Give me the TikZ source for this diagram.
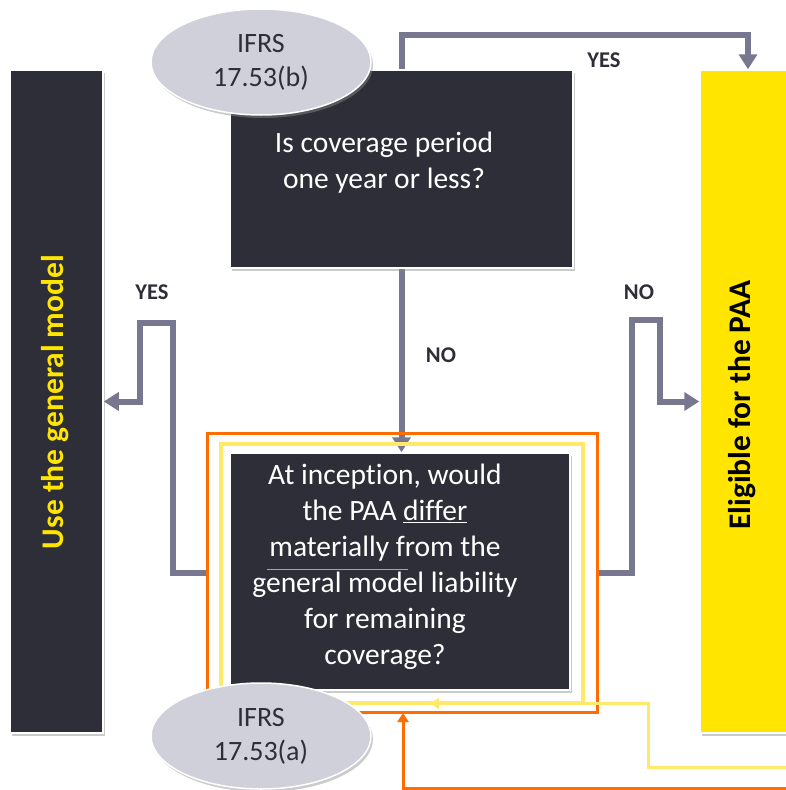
\documentclass[tikz,border=0pt]{standalone}
\usepackage{fontspec}
\setmainfont{Carlito}[Ligatures=NoCommon]
\usetikzlibrary{shapes.geometric,arrows.meta,shadows,backgrounds}
\definecolor{boxdark}{HTML}{2E2E38}
\definecolor{connector}{HTML}{77778F}
\definecolor{paayellow}{HTML}{FFE500}
\definecolor{ovalfill}{HTML}{D0D0DA}
\definecolor{frameorange}{HTML}{FF6D00}
\definecolor{framelight}{HTML}{FFE96A}
\tikzset{
  softshadow/.style={drop shadow={shadow xshift=2pt, shadow yshift=-3pt,
      fill=black!45, opacity=0.45}},
  darkbox/.style={rectangle, fill=boxdark, draw=white, line width=1.5pt,
      inner sep=0pt, softshadow},
  yellowbox/.style={rectangle, fill=paayellow, draw=white, line width=1.5pt,
      inner sep=0pt, softshadow},
  boxtext/.style={text=white, align=center,
      font=\fontsize{29.5}{36}\selectfont},
  sidetext/.style={rotate=90, font=\bfseries\fontsize{31.5}{34}\selectfont},
  oval/.style={ellipse, fill=ovalfill, draw=white, line width=1.5pt,
      minimum width=220pt, minimum height=106pt, inner sep=0pt,
      align=center, text=boxdark, font=\fontsize{28}{34}\selectfont, softshadow},
  answer/.style={text=boxdark, font=\bfseries\fontsize{22.5}{25}\selectfont},
  conn/.style={draw=connector, line width=6pt,
      -{Triangle[width=18pt,length=15pt]}},
  feedyellow/.style={draw=framelight, line width=3pt,
      -{Triangle[width=11pt,length=9pt]}},
  feedorange/.style={draw=frameorange, line width=3pt,
      -{Triangle[width=11pt,length=9pt]}},
}
\begin{document}
\begin{tikzpicture}[x=1pt,y=-1pt]
  \useasboundingbox (0,0) rectangle (786,790);

  % outcome boxes
  \node[darkbox, minimum width=93pt, minimum height=663pt] (gm) at (56.5,401.5) {};
  \node[sidetext, text=paayellow] (gmtext) at (55,402) {Use the general model};
  \node[yellowbox, minimum width=100pt, minimum height=663pt] (paa) at (750,401.5) {};
  \node[sidetext, text=black] (paatext) at (742,405) {Eligible for the PAA};

  % question boxes
  \node[darkbox, minimum width=343pt, minimum height=198pt] (q1) at (401.5,169) {};
  \node[boxtext] (q1text) at (384,163) {Is coverage period\\one year or less?};
  \node[darkbox, minimum width=340pt, minimum height=237pt] (q2) at (400,571.5) {};
  \node[boxtext] (q2text) at (385,567)
    {At inception, would\\the PAA \underline{differ}\\materially from the\\general model liability\\for remaining\\coverage?};
  \draw[gray!70, line width=0.8pt] (267,569) -- (408,569);

  % highlight frames around the second question
  \node[rectangle, draw=framelight, line width=4pt, minimum width=362pt,
        minimum height=259pt, inner sep=0pt] (frameY) at (402,573.5) {};
  \node[rectangle, draw=frameorange, line width=3pt, minimum width=390pt,
        minimum height=279pt, inner sep=0pt] (frameO) at (402,572.5) {};

  % decision connectors, kept behind the boxes
  \coordinate (topbend) at (748,35);
  \begin{scope}[on background layer]
    \draw[conn] (q1.north) |- (topbend) -- (topbend |- paa.north);
    \draw[conn] (q1.south) -- (q1.south |- q2.north);
    \draw[conn] (frameO.west) -| (173,323) -| (140,401.5) -- (gm.east);
    \draw[conn] (frameO.east) -| (632,320) -| (660,401.5) -- (paa.west);
  \end{scope}

  % feedback lines
  \coordinate (yin) at (792,767);
  \coordinate (oin) at (792,788);
  \draw[feedyellow] (yin) -| (648,703.5) -- (430,703.5);
  \draw[feedorange] (oin) -| (403,713);

  % answer labels
  \node[answer] (yes1) at (604,60) {YES};
  \node[answer] (no1) at (441,355) {NO};
  \node[answer] (yes2) at (152,292) {YES};
  \node[answer] (no2) at (639,292) {NO};

  % standard references
  \node[oval] (refb) at (261,62) {IFRS\\17.53(b)};
  \node[oval] (refa) at (261,736) {IFRS\\17.53(a)};
\end{tikzpicture}
\end{document}
